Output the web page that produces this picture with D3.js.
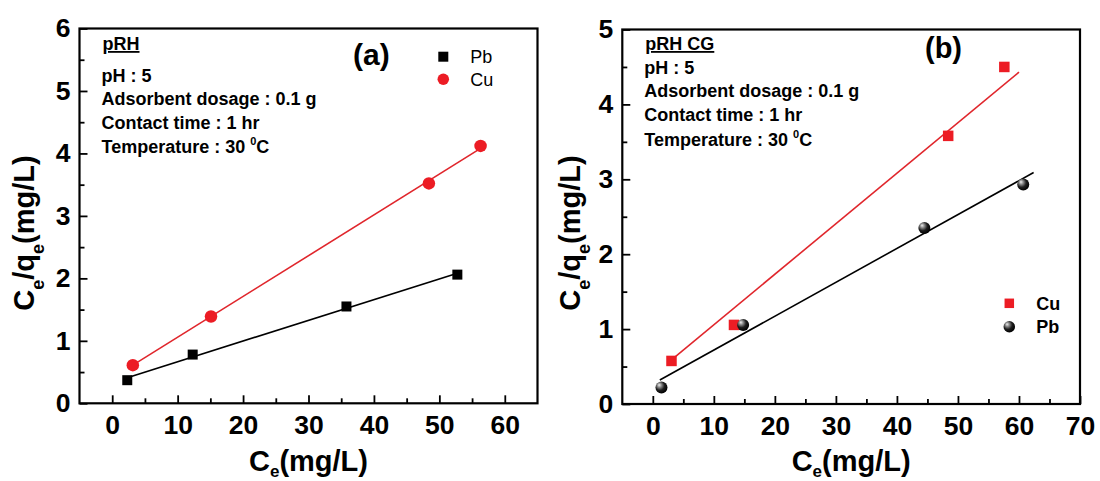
<!DOCTYPE html>
<html>
<head>
<meta charset="utf-8">
<script src="https://cdn.jsdelivr.net/npm/d3@7"></script>
<style>
  html, body { margin: 0; padding: 0; background: #fff; }
  svg text { font-family: "Liberation Sans", Arial, Helvetica, sans-serif; }
</style>
</head>
<body>
<svg id="chart" width="1100" height="481"></svg>
<script>
// Linearised Langmuir isotherms: Ce (mg/L) against Ce/qe

// (a) pRH
const pbA_ce = [2.3, 12.3, 35.8, 52.75];
const pbA_ratio = [0.37, 0.78, 1.55, 2.06];
const cuA_ce = [3.15, 15.1, 48.4, 56.3];
const cuA_ratio = [0.61, 1.39, 3.52, 4.12];
const pbA_fit = [[2.3, 0.41], [53.0, 2.09]];
const cuA_fit = [[3.15, 0.61], [56.3, 4.08]];

// (b) pRH CG
const cuB_ce = [3.06, 13.3, 48.4, 57.6];
const cuB_ratio = [0.575, 1.056, 3.58, 4.50];
const pbB_ce = [1.42, 14.8, 44.5, 60.7];
const pbB_ratio = [0.22, 1.056, 2.35, 2.93];
const cuB_fit = [[3.06, 0.59], [60, 4.43]];
const pbB_fit = [[1.15, 0.32], [62.4, 3.09]];

// Axis ticks
const xMajorA = [0, 10, 20, 30, 40, 50, 60];
const xMinorA = [5, 15, 25, 35, 45, 55];
const yMajorA = [0, 1, 2, 3, 4, 5, 6];
const yMinorA = [0.5, 1.5, 2.5, 3.5, 4.5, 5.5];
const xMajorB = [0, 10, 20, 30, 40, 50, 60, 70];
const xMinorB = [5, 15, 25, 35, 45, 55, 65];
const yMajorB = [0, 1, 2, 3, 4, 5];
const yMinorB = [0.5, 1.5, 2.5, 3.5, 4.5];

// Experimental conditions
const conditions = ["pH : 5", "Adsorbent dosage : 0.1 g", "Contact time : 1 hr"];

const RED = "#ec1c24";
const RED_LINE = "#e0262c";
const FONT = '"Liberation Sans", Arial, Helvetica, sans-serif';

const svg = d3.select("#chart");
const defs = svg.append("defs");
const grad = defs.append("radialGradient").attr("id", "ballFill")
  .attr("cx", "40%").attr("cy", "38%").attr("r", "62%")
  .attr("fx", "30%").attr("fy", "28%");
[["0%", "#f0f0f0"], ["28%", "#8c8c8c"], ["62%", "#1e1e1e"], ["100%", "#000"]]
  .forEach(([o, c]) => grad.append("stop").attr("offset", o).attr("stop-color", c));

function zip(xs, ys) { return xs.map((v, i) => [v, ys[i]]); }

function drawPanel(cfg) {
  const g = svg.append("g");
  const x = d3.scaleLinear().domain(cfg.xDomain).range([cfg.left, cfg.right]);
  const y = d3.scaleLinear().domain(cfg.yDomain).range([cfg.bottom, cfg.top]);

  const styleAxis = sel => {
    sel.select(".domain").remove();
    sel.selectAll(".tick line").attr("stroke", "#000").attr("stroke-width", 1.8);
    sel.attr("font-family", FONT).attr("font-size", 26.5).attr("font-weight", "bold");
  };

  // x axis: minor then major ticks, pointing inward
  g.append("g").attr("transform", `translate(0,${cfg.bottom})`)
    .call(d3.axisBottom(x).tickValues(cfg.xMinor).tickSizeInner(-5).tickSizeOuter(0).tickFormat(""))
    .call(styleAxis);
  g.append("g").attr("transform", `translate(0,${cfg.bottom})`)
    .call(d3.axisBottom(x).tickValues(cfg.xMajor).tickSizeInner(-8).tickSizeOuter(0)
      .tickPadding(12).tickFormat(d3.format("d")))
    .call(styleAxis);

  // y axis
  g.append("g").attr("transform", `translate(${cfg.left},0)`)
    .call(d3.axisLeft(y).tickValues(cfg.yMinor).tickSizeInner(-5).tickSizeOuter(0).tickFormat(""))
    .call(styleAxis);
  g.append("g").attr("transform", `translate(${cfg.left},0)`)
    .call(d3.axisLeft(y).tickValues(cfg.yMajor).tickSizeInner(-8).tickSizeOuter(0)
      .tickPadding(9).tickFormat(d3.format("d")))
    .call(styleAxis);

  // frame
  g.append("rect")
    .attr("x", cfg.left).attr("y", cfg.top)
    .attr("width", cfg.right - cfg.left).attr("height", cfg.bottom - cfg.top)
    .attr("fill", "none").attr("stroke", "#000").attr("stroke-width", 2.2);

  // axis titles
  const xt = g.append("text")
    .attr("x", (cfg.left + cfg.right) / 2).attr("y", 471)
    .attr("text-anchor", "middle").attr("font-size", 29).attr("font-weight", "bold");
  xt.append("tspan").text("C");
  xt.append("tspan").attr("font-size", 17).attr("dy", 6).text("e");
  xt.append("tspan").attr("dy", -6).text("(mg/L)");

  const yt = g.append("text")
    .attr("transform", `translate(${cfg.yTitleX},233) rotate(-90)`)
    .attr("text-anchor", "middle").attr("font-size", 29).attr("font-weight", "bold");
  yt.append("tspan").text("C");
  yt.append("tspan").attr("font-size", 18).attr("dy", 10).text("e");
  yt.append("tspan").attr("dy", -10).text("/q");
  yt.append("tspan").attr("font-size", 18).attr("dy", 10).text("e");
  yt.append("tspan").attr("dy", -10).text("(mg/L)");

  // conditions block
  const tx = cfg.left + 22;
  g.append("text").attr("x", tx + 1).attr("y", 50)
    .attr("font-size", 18).attr("font-weight", "bold")
    .attr("text-decoration", "underline").text(cfg.material);
  conditions.forEach((c, i) => {
    g.append("text").attr("x", tx).attr("y", cfg.condY[i])
      .attr("font-size", 18).attr("font-weight", "bold").text(c);
  });
  const tt = g.append("text").attr("x", tx).attr("y", cfg.condY[3])
    .attr("font-size", 18).attr("font-weight", "bold");
  tt.append("tspan").text("Temperature : 30 ");
  tt.append("tspan").attr("font-size", 11).attr("dy", -8).text("0");
  tt.append("tspan").attr("dy", 8).text("C");

  // panel label
  g.append("text").attr("x", cfg.labelX).attr("y", cfg.labelY)
    .attr("font-size", cfg.labelSize).attr("font-weight", "bold").text(cfg.label);

  const line = d3.line().x(d => x(d[0])).y(d => y(d[1]));

  // fitted lines
  cfg.series.forEach(s => {
    g.append("path").datum(s.fit).attr("d", line)
      .attr("fill", "none").attr("stroke", s.lineColor).attr("stroke-width", 1.6);
  });

  // markers
  const marker = (sel, kind, size) => {
    if (kind === "square") {
      sel.append("rect").attr("x", -size / 2).attr("y", -size / 2)
        .attr("width", size).attr("height", size);
    } else if (kind === "circle") {
      sel.append("circle").attr("r", size / 2);
    } else {
      sel.append("circle").attr("r", size / 2).attr("fill", "url(#ballFill)");
    }
  };
  cfg.series.forEach(s => {
    const pts = g.append("g").selectAll("g").data(zip(s.ce, s.ratio)).join("g")
      .attr("transform", d => `translate(${x(d[0])},${y(d[1])})`)
      .attr("fill", s.color);
    pts.each(function () { marker(d3.select(this), s.kind, s.size); });
  });

  // legend
  cfg.series.forEach((s, i) => {
    const ly = cfg.legendY + i * cfg.legendStep;
    const lg = g.append("g").attr("transform", `translate(${cfg.legendX},${ly})`)
      .attr("fill", s.color);
    marker(lg, s.kind, s.legendSize);
    g.append("text").attr("x", cfg.legendX + 27).attr("y", ly + 6.5)
      .attr("font-size", 18).attr("font-weight", cfg.legendWeight).text(s.name);
  });
}

drawPanel({
  xDomain: [-5, 65], yDomain: [0, 6],
  left: 79.5, right: 537.5, top: 28.5, bottom: 403.3,
  xMajor: xMajorA, xMinor: xMinorA, yMajor: yMajorA, yMinor: yMinorA,
  yTitleX: 34, material: "pRH", condY: [81.5, 104.5, 128.5, 153],
  label: "(a)", labelX: 353, labelY: 65, labelSize: 30,
  legendX: 443.3, legendY: 56.7, legendStep: 22.6, legendWeight: "normal",
  series: [
    { name: "Pb", ce: pbA_ce, ratio: pbA_ratio, fit: pbA_fit, kind: "square",
      color: "#000", lineColor: "#000", size: 10, legendSize: 10 },
    { name: "Cu", ce: cuA_ce, ratio: cuA_ratio, fit: cuA_fit, kind: "circle",
      color: RED, lineColor: RED_LINE, size: 12.5, legendSize: 11.5 }
  ]
});

drawPanel({
  xDomain: [-5, 70], yDomain: [0, 5],
  left: 622.3, right: 1080, top: 29.5, bottom: 404,
  xMajor: xMajorB, xMinor: xMinorB, yMajor: yMajorB, yMinor: yMinorB,
  yTitleX: 580, material: "pRH CG", condY: [74, 97, 120.5, 146],
  label: "(b)", labelX: 925, labelY: 58, labelSize: 29,
  legendX: 1009.3, legendY: 303.3, legendStep: 23.4, legendWeight: "bold",
  series: [
    { name: "Cu", ce: cuB_ce, ratio: cuB_ratio, fit: cuB_fit, kind: "square",
      color: RED, lineColor: RED_LINE, size: 10.5, legendSize: 9.5 },
    { name: "Pb", ce: pbB_ce, ratio: pbB_ratio, fit: pbB_fit, kind: "ball",
      color: "#000", lineColor: "#000", size: 12, legendSize: 11.5 }
  ]
});
</script>
</body>
</html>
